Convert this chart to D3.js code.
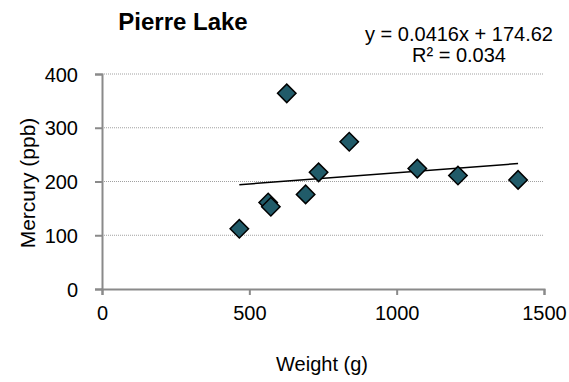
<!DOCTYPE html>
<html>
<head>
<meta charset="utf-8">
<script src="https://cdn.jsdelivr.net/npm/d3@7"></script>
<style>
  body { margin: 0; background: #fff; }
  svg { font-family: "Liberation Sans", Arial, sans-serif; }
</style>
</head>
<body>
<svg id="chart" width="569" height="382"></svg>
<script>
// Data
var weights = [466, 627, 564, 573, 691, 735, 839, 1070, 1208, 1412];
var mercury = [112, 364, 161, 153, 176, 217, 274, 224, 211, 203];
var xTicks = [0, 500, 1000, 1500];
var yTicks = [0, 100, 200, 300, 400];
var trendSlope = 0.0416, trendIntercept = 174.62;
var trendLabel = ["y = 0.0416x + 174.62", "R\u00b2 = 0.034"];

var svg = d3.select("#chart");
var plotLeft = 102, plotRight = 544, plotTop = 74, plotBottom = 289;

var x = d3.scaleLinear().domain([0, 1500]).range([plotLeft, plotRight]);
var y = d3.scaleLinear().domain([0, 400]).range([plotBottom, plotTop]);

// gridlines (dotted)
svg.append("g").selectAll("line")
    .data(yTicks.filter(function(d) { return d > 0; }))
  .enter().append("line")
    .attr("x1", plotLeft).attr("x2", plotRight)
    .attr("y1", function(d) { return y(d); })
    .attr("y2", function(d) { return y(d); })
    .attr("stroke", "#a0a0a0")
    .attr("stroke-width", 1)
    .attr("stroke-dasharray", "1,1");

// axes
var xAxis = svg.append("g")
    .attr("transform", "translate(0," + plotBottom + ")")
    .call(d3.axisBottom(x).tickValues(xTicks).tickFormat(d3.format("d"))
        .tickSize(6).tickPadding(11));
var yAxis = svg.append("g")
    .attr("transform", "translate(" + plotLeft + ",0)")
    .call(d3.axisLeft(y).tickValues(yTicks).tickFormat(d3.format("d"))
        .tickSize(7).tickPadding(17));

[xAxis, yAxis].forEach(function(a) {
    a.select(".domain").attr("stroke", "#8a8a8a").attr("stroke-width", 2);
    a.selectAll(".tick line").attr("stroke", "#8a8a8a").attr("stroke-width", 2);
    a.selectAll(".tick text").attr("fill", "#000").style("font-size", "20px")
        .style("font-family", "'Liberation Sans', Arial, sans-serif");
});
yAxis.selectAll(".tick text").attr("dy", "0.36em");

// trendline
var xMin = d3.min(weights), xMax = d3.max(weights);
svg.append("line")
    .attr("x1", x(xMin)).attr("y1", y(trendSlope * xMin + trendIntercept))
    .attr("x2", x(xMax)).attr("y2", y(trendSlope * xMax + trendIntercept))
    .attr("stroke", "#000")
    .attr("stroke-width", 1.5);

// points (diamonds)
var diamond = d3.symbol().type(d3.symbolSquare).size(170);
svg.append("g").selectAll("path")
    .data(weights.map(function(w, i) { return [w, mercury[i]]; }))
  .enter().append("path")
    .attr("d", diamond)
    .attr("transform", function(d) {
        return "translate(" + x(d[0]) + "," + y(d[1]) + ") rotate(45)";
    })
    .attr("fill", "#215b69")
    .attr("stroke", "#000")
    .attr("stroke-width", 1.5);

// title
svg.append("text")
    .attr("x", 183).attr("y", 30)
    .attr("text-anchor", "middle")
    .style("font-size", "24px").style("font-weight", "bold")
    .text("Pierre Lake");

// equation label
svg.append("g").selectAll("text")
    .data(trendLabel)
  .enter().append("text")
    .attr("x", 459)
    .attr("y", function(d, i) { return 41 + i * 21; })
    .attr("text-anchor", "middle")
    .style("font-size", "20px")
    .text(function(d) { return d; });

// axis titles
svg.append("text")
    .attr("x", 322).attr("y", 371)
    .attr("text-anchor", "middle")
    .style("font-size", "20px")
    .text("Weight (g)");

svg.append("text")
    .attr("transform", "translate(35,183) rotate(-90)")
    .attr("text-anchor", "middle")
    .style("font-size", "21px")
    .text("Mercury (ppb)");
</script>
</body>
</html>
